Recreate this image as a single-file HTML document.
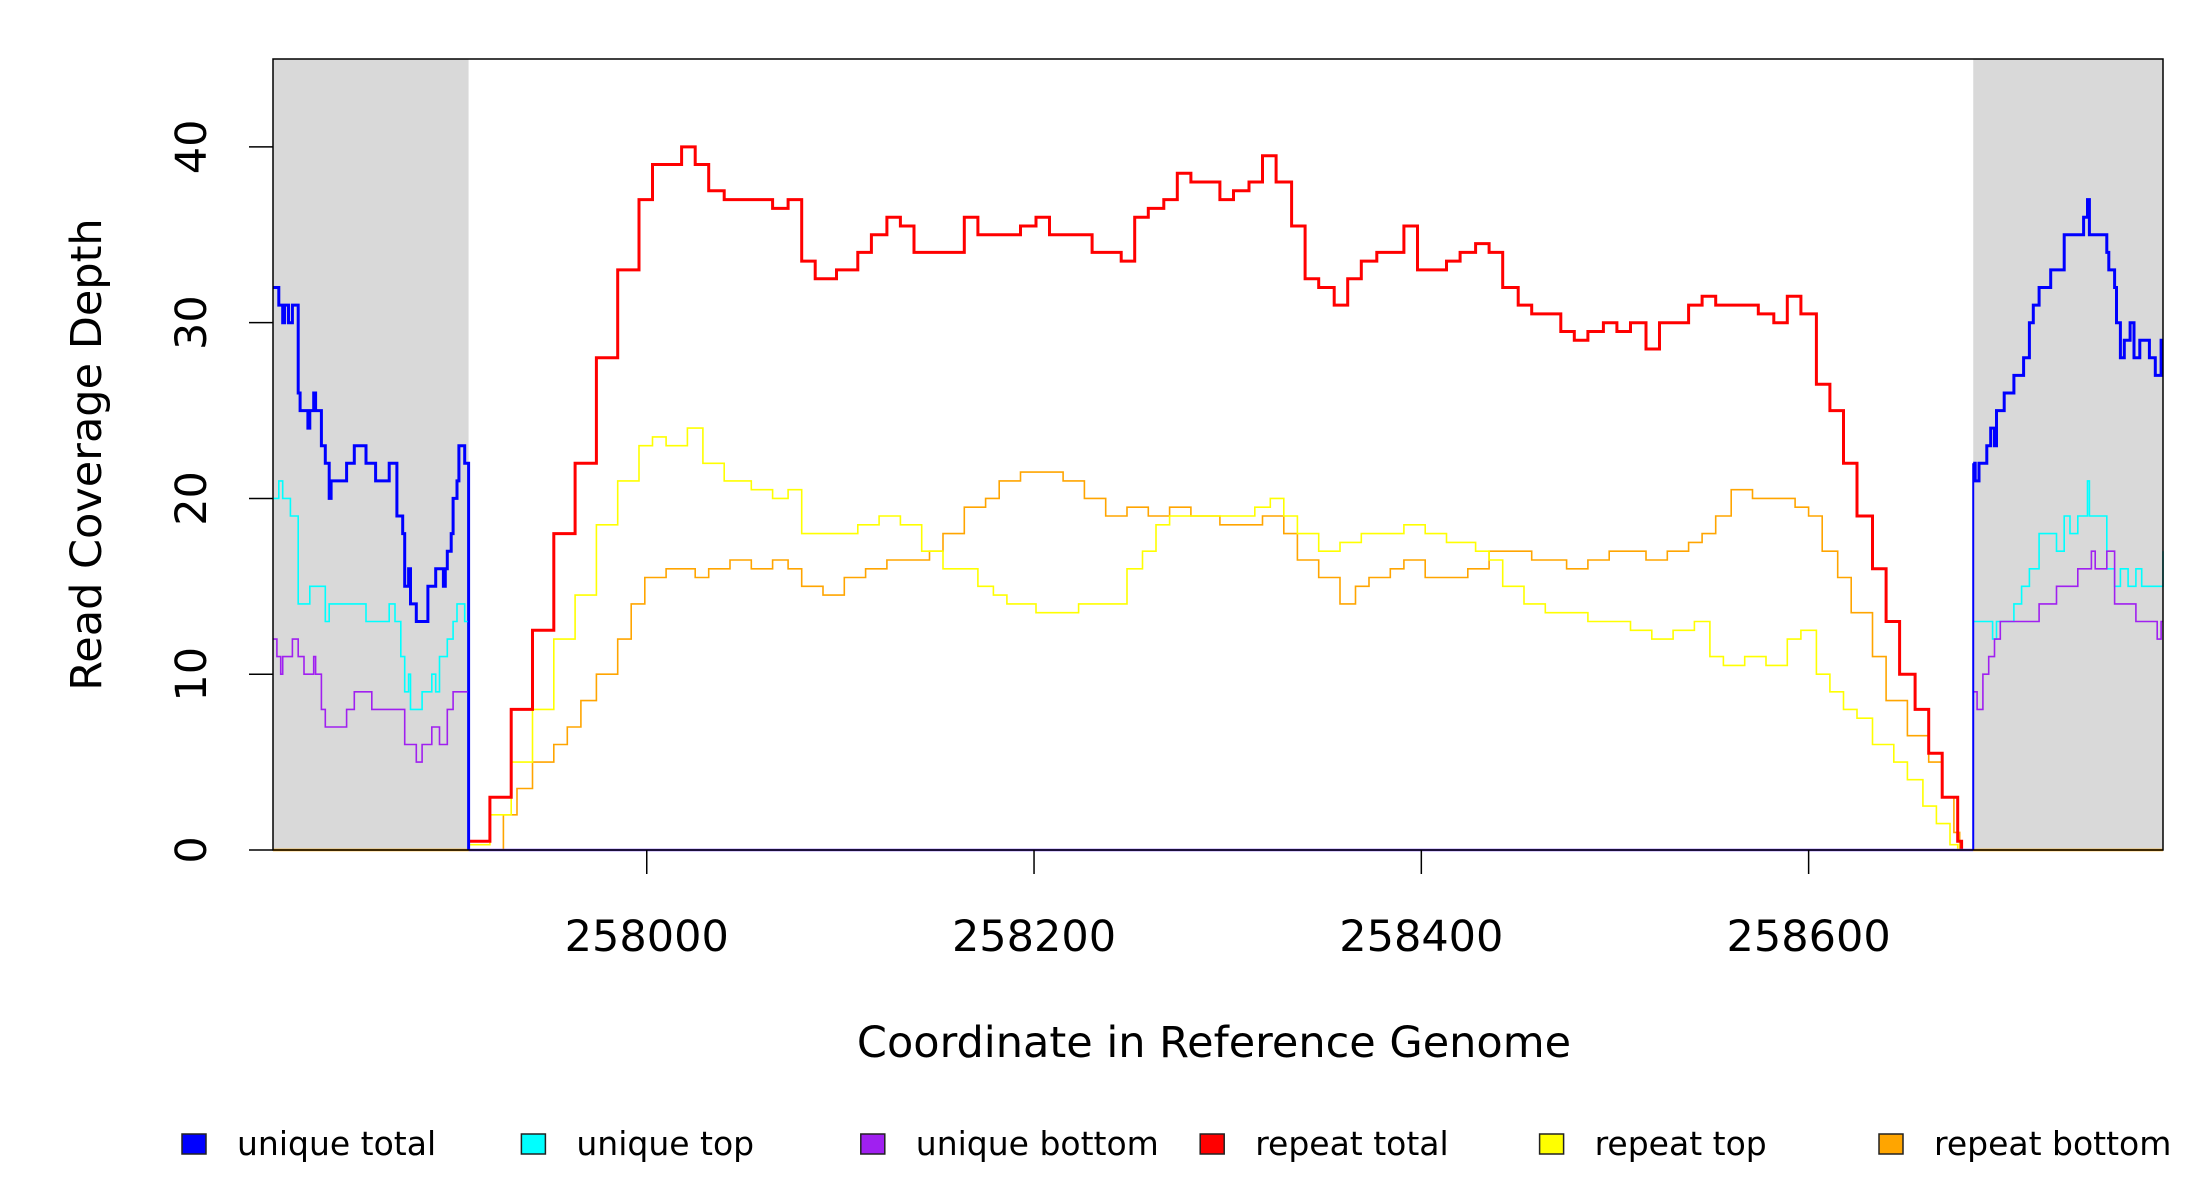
<!DOCTYPE html>
<html><head><meta charset="utf-8"><style>
html,body{margin:0;padding:0;background:#fff;}
svg{display:block;font-family:"DejaVu Sans","Liberation Sans",sans-serif;}
</style></head><body>
<svg id="chart" width="2200" height="1200" viewBox="0 0 2200 1200" xmlns="http://www.w3.org/2000/svg">
<g id="plot"></g>
<g id="axes"></g>
<g id="legend"></g>
</svg>
<script>
// ---- data ----
const xDomain = [257807, 258783];
const yDomain = [0, 45];
const xTicks = [258000, 258200, 258400, 258600];
const yTicks = [0, 10, 20, 30, 40];
const grayRegions = [[257807, 257908], [258685, 258783]];

const redX = [257908,257919,257930,257941,257952,257963,257974,257985,257996,258003,258010,258018,258025,258032,258040,258054,258065,258073,258080,258087,258098,258109,258116,258124,258131,258138,258149,258160,258164,258171,258179,258186,258193,258201,258208,258215,258223,258230,258237,258245,258252,258259,258267,258274,258281,258289,258296,258303,258311,258318,258325,258333,258340,258347,258355,258362,258369,258377,258384,258391,258398,258406,258413,258420,258428,258435,258442,258450,258457,258464,258472,258479,258486,258494,258501,258508,258516,258523,258530,258538,258545,258552,258560,258567,258574,258582,258589,258596,258604,258611,258618,258625,258633,258640,258647,258655,258662,258669,258677,258679];
const redY = [0.5,3,8,12.5,18,22,28,33,37,39,39,40,39,37.5,37,37,36.5,37,33.5,32.5,33,34,35,36,35.5,34,34,34,36,35,35,35,35.5,36,35,35,35,34,34,33.5,36,36.5,37,38.5,38,38,37,37.5,38,39.5,38,35.5,32.5,32,31,32.5,33.5,34,34,35.5,33,33,33.5,34,34.5,34,32,31,30.5,30.5,29.5,29,29.5,30,29.5,30,28.5,30,30,31,31.5,31,31,31,30.5,30,31.5,30.5,26.5,25,22,19,16,13,10,8,5.5,3,0.5,0];

const yellowX = [257908,257919,257930,257941,257952,257963,257974,257985,257996,258003,258010,258021,258029,258040,258054,258065,258073,258080,258087,258098,258109,258120,258131,258142,258153,258164,258171,258179,258186,258193,258201,258212,258223,258234,258241,258248,258256,258263,258270,258281,258292,258303,258314,258322,258329,258336,258347,258358,258369,258380,258391,258402,258413,258428,258435,258442,258453,258464,258475,258486,258497,258508,258519,258530,258541,258549,258556,258567,258578,258589,258596,258604,258611,258618,258625,258633,258644,258651,258659,258666,258673,258677];
const yellowY = [0.3,2,5,8,12,14.5,18.5,21,23,23.5,23,24,22,21,20.5,20,20.5,18,18,18,18.5,19,18.5,17,16,16,15,14.5,14,14,13.5,13.5,14,14,14,16,17,18.5,19,19,19,19,19.5,20,19,18,17,17.5,18,18,18.5,18,17.5,17,16.5,15,14,13.5,13.5,13,13,12.5,12,12.5,13,11,10.5,11,10.5,12,12.5,10,9,8,7.5,6,5,4,2.5,1.5,0.3,0];

const orangeX = [257908,257926,257933,257941,257952,257959,257966,257974,257985,257992,257999,258010,258025,258032,258043,258054,258065,258073,258080,258091,258102,258113,258124,258135,258146,258153,258164,258175,258182,258193,258204,258215,258226,258237,258248,258259,258270,258281,258296,258307,258318,258329,258336,258347,258358,258366,258373,258384,258391,258402,258413,258424,258435,258446,258457,258468,258475,258486,258497,258508,258516,258527,258538,258545,258552,258560,258571,258582,258593,258600,258607,258615,258622,258633,258640,258651,258662,258669,258675,258678];
const orangeY = [0,2,3.5,5,6,7,8.5,10,12,14,15.5,16,15.5,16,16.5,16,16.5,16,15,14.5,15.5,16,16.5,16.5,17,18,19.5,20,21,21.5,21.5,21,20,19,19.5,19,19.5,19,18.5,18.5,19,18,16.5,15.5,14,15,15.5,16,16.5,15.5,15.5,16,17,17,16.5,16.5,16,16.5,17,17,16.5,17,17.5,18,19,20.5,20,20,19.5,19,17,15.5,13.5,11,8.5,6.5,5,3,1,0];

const blueLX = [257807,257810,257812,257813,257815,257817,257820,257821,257825,257826,257828,257829,257832,257834,257836,257837,257845,257849,257855,257860,257867,257871,257874,257875,257877,257878,257881,257887,257891,257895,257896,257897,257899,257900,257902,257903,257906,257908];
const blueLY = [32,31,30,31,30,31,26,25,24,25,26,25,23,22,20,21,22,23,22,21,22,19,18,15,16,14,13,15,16,15,16,17,18,20,21,23,22,0];
const blueRX = [258685,258686,258688,258692,258694,258696,258697,258701,258706,258711,258714,258716,258719,258725,258728,258732,258740,258742,258744,258745,258748,258754,258755,258758,258759,258761,258763,258766,258768,258771,258776,258779,258782,258783];
const blueRY = [22,21,22,23,24,23,25,26,27,28,30,31,32,33,33,35,35,36,37,35,35,34,33,32,30,28,29,30,28,29,28,27,29,29];

const cyanLX = [257807,257810,257812,257816,257820,257826,257834,257836,257855,257867,257870,257873,257875,257877,257878,257884,257889,257891,257893,257897,257900,257902,257906,257908];
const cyanLY = [20,21,20,19,14,15,13,14,13,14,13,11,9,10,8,9,10,9,11,12,13,14,13,0];
const cyanRX = [258685,258695,258697,258706,258710,258714,258719,258728,258732,258735,258739,258744,258745,258750,258754,258758,258761,258765,258769,258772,258783];
const cyanRY = [13,12,13,14,15,16,18,17,19,18,19,21,19,19,16,15,16,15,16,15,17];

const purpleLX = [257807,257809,257811,257812,257817,257820,257823,257828,257829,257832,257834,257845,257849,257858,257875,257881,257884,257889,257893,257897,257900,257904,257908];
const purpleLY = [12,11,10,11,12,11,10,11,10,8,7,8,9,8,6,5,6,7,6,8,9,9,0];
const purpleRX = [258685,258687,258690,258693,258696,258699,258719,258728,258739,258746,258748,258754,258758,258769,258780,258782,258783];
const purpleRY = [9,8,10,11,12,13,14,15,16,17,16,17,14,13,12,13,13];

const legendLabels = ["unique total","unique top","unique bottom","repeat total","repeat top","repeat bottom"];
const legendColors = ["#0000ff","#00ffff","#a020f0","#ff0000","#ffff00","#ffa500"];

// ---- layout ----
const L = 273, R = 2163, T = 59, B = 850;
function xs(v){ return L + (v - xDomain[0]) / (xDomain[1] - xDomain[0]) * (R - L); }
function ys(v){ return B - (v - yDomain[0]) / (yDomain[1] - yDomain[0]) * (B - T); }
const NS = "http://www.w3.org/2000/svg";
function mk(tag, attrs, parent){
  const e = document.createElementNS(NS, tag);
  for (const k in attrs) e.setAttribute(k, attrs[k]);
  parent.appendChild(e); return e;
}
function stepPath(X, Y){
  let d = "M" + xs(X[0]).toFixed(1) + "," + ys(Y[0]).toFixed(1);
  for (let i = 1; i < X.length; i++){
    d += "H" + xs(X[i]).toFixed(1) + "V" + ys(Y[i]).toFixed(1);
  }
  return d;
}
const plot = document.getElementById("plot");
const axes = document.getElementById("axes");
const legend = document.getElementById("legend");

grayRegions.forEach((g, i) => {
  const r = mk("rect", {x: xs(g[0]), y: T, width: xs(g[1]) - xs(g[0]), height: B - T, fill: "#d9d9d9"}, plot);
  
  
});

function series(X, Y, color, w, name){
  const p = mk("path", {d: stepPath(X, Y), fill: "none", stroke: color, "stroke-width": w, "stroke-linejoin": "miter"}, plot);
  
  
}
series([xDomain[0], 257908], [0, 0], "#ffa500", 2.5, "repeat-bottom-baseline-left");
series([258685, xDomain[1]], [0, 0], "#ffa500", 2.5, "repeat-bottom-baseline-right");
series(orangeX, orangeY, "#ffa500", 1.6, "repeat-bottom-line");
series(yellowX, yellowY, "#ffff00", 1.6, "repeat-top-line");
series(redX, redY, "#ff0000", 3, "repeat-total-line");
series(blueLX, blueLY, "#0000ff", 3, "unique-total-line-left");
series(blueRX, blueRY, "#0000ff", 3, "unique-total-line-right");
series(cyanLX, cyanLY, "#00ffff", 1.6, "unique-top-line-left");
series(cyanRX, cyanRY, "#00ffff", 1.6, "unique-top-line-right");
series(purpleLX, purpleLY, "#a020f0", 1.6, "unique-bottom-line-left");
series(purpleRX, purpleRY, "#a020f0", 1.6, "unique-bottom-line-right");
series([257908, 258685], [0, 0], "#7040f0", 2.5, "unique-baseline-middle");
mk("line", {x1: xs(257908), y1: ys(0), x2: xs(257908), y2: ys(22), stroke: "#0000ff", "stroke-width": 2}, plot);
mk("line", {x1: xs(258685), y1: ys(0), x2: xs(258685), y2: ys(22), stroke: "#0000ff", "stroke-width": 2}, plot);

const box = mk("rect", {x: L, y: T, width: R - L, height: B - T, fill: "none", stroke: "#000", "stroke-width": 1.5}, axes);



xTicks.forEach(t => {
  const x = xs(t);
  const tk = mk("line", {x1: x, y1: B, x2: x, y2: B + 24, stroke: "#000", "stroke-width": 1.5}, axes);
  
  
  const lb = mk("text", {x: x, y: 951, "font-size": 43, "text-anchor": "middle", fill: "#000"}, axes);
  lb.textContent = t;
  
  
});
yTicks.forEach(t => {
  const y = ys(t);
  const tk = mk("line", {x1: L, y1: y, x2: L - 24, y2: y, stroke: "#000", "stroke-width": 1.5}, axes);
  
  
  const lb = mk("text", {x: 0, y: 0, "font-size": 43, "text-anchor": "middle", fill: "#000", transform: "translate(206," + y + ") rotate(-90)"}, axes);
  lb.textContent = t;
  
  
});
const xt = mk("text", {x: (L + R) / 2 - 4, y: 1057, "font-size": 43, "text-anchor": "middle", fill: "#000"}, axes);
xt.textContent = "Coordinate in Reference Genome";


const yt = mk("text", {x: 0, y: 0, "font-size": 43, "text-anchor": "middle", fill: "#000", transform: "translate(101," + ((T + B) / 2) + ") rotate(-90)"}, axes);
yt.textContent = "Read Coverage Depth";



legendLabels.forEach((lab, i) => {
  const x0 = 182 + i * 339.4;
  const g = mk("g", {}, legend);
  
  
  mk("rect", {x: x0, y: 1134, width: 24, height: 20, fill: legendColors[i], stroke: "#222", "stroke-width": 1.5}, g);
  const t = mk("text", {x: x0 + 55, y: 1155, "font-size": 33, fill: "#000"}, g);
  t.textContent = lab;
});
</script>
</body></html>
